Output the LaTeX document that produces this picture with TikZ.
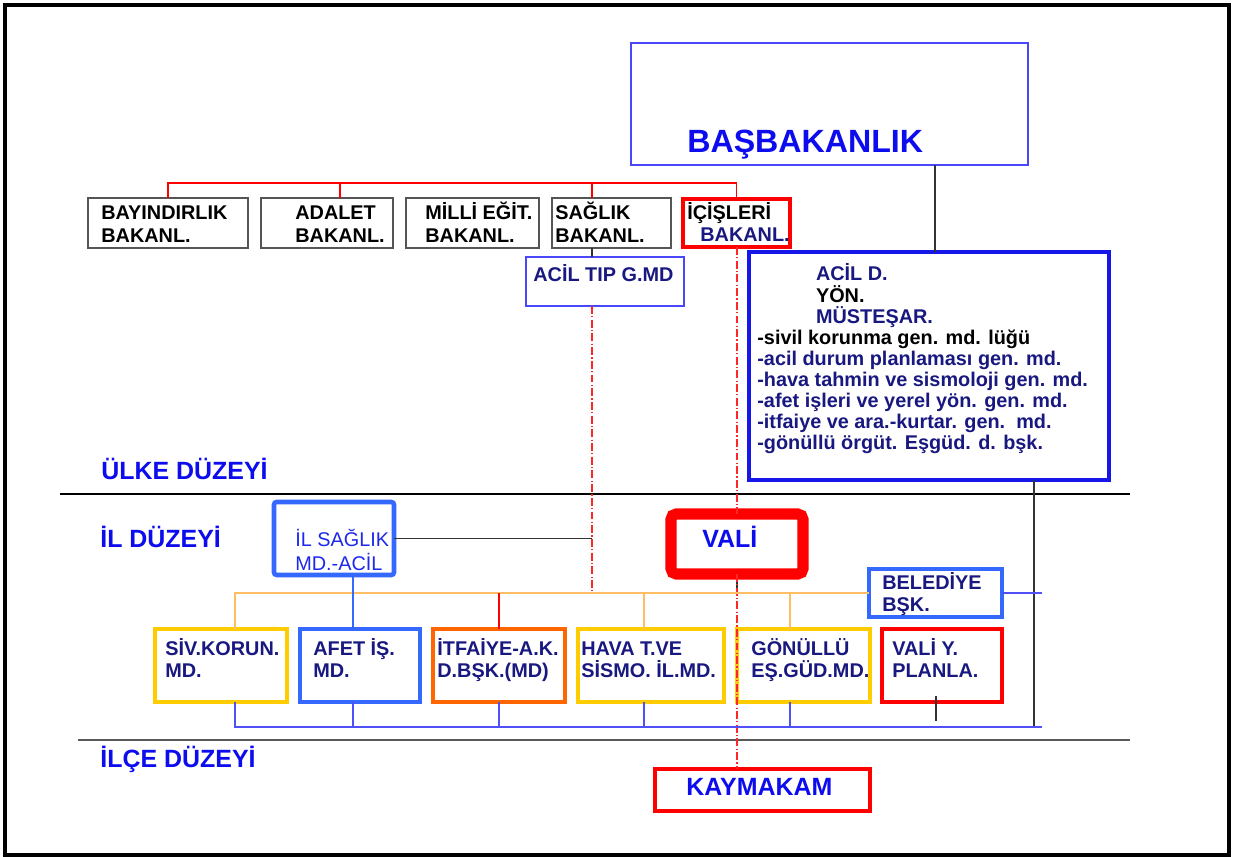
\documentclass[tikz,border=0pt]{standalone}
\usepackage{fontspec}
\setmainfont{Liberation Sans}
\definecolor{navy}{RGB}{24,24,128}
\definecolor{lblue}{RGB}{12,12,238}
\definecolor{edgeblue}{RGB}{72,72,250}
\definecolor{deepblue}{RGB}{22,22,232}
\definecolor{royal}{RGB}{52,104,255}
\definecolor{gold}{RGB}{255,204,0}
\definecolor{flame}{RGB}{255,102,0}
\definecolor{peach}{RGB}{255,190,100}
\definecolor{busblue}{RGB}{80,80,250}
\definecolor{greyedge}{RGB}{85,85,85}
\definecolor{textblue}{RGB}{30,40,235}

% left-aligned stack of lines; baseline = first line, fixed line spacing
\newcommand\lines[1]{\vtop{\lineskiplimit=-\maxdimen\halign{##\hfil\cr#1\crcr}}}
% empty framed box from its corner coordinates: style, name, x1, y1, x2, y2
\newcommand\panel[6]{\node[#1, minimum width={(#5-#3)*0.02cm}, minimum height={(#6-#4)*0.02cm}] (#2) at ({(#3+#5)/2},{(#4+#6)/2}) {};}

\begin{document}
\begin{tikzpicture}[x=0.02cm,y=-0.02cm,
  box/.style={draw, rectangle, inner sep=0pt, outer sep=0pt, fill=white},
  thinframe/.style={box, draw=edgeblue, line width=0.7pt},
  greyframe/.style={box, draw=greyedge, line width=1.1pt},
  redframe/.style={box, draw=red, line width=2.8pt},
  heavyred/.style={box, draw=red, line width=6.3pt, rounded corners=3pt},
  blueframe/.style={box, draw=deepblue, line width=2.4pt},
  royalframe/.style={box, draw=royal, line width=2.6pt},
  goldframe/.style={box, draw=gold, line width=2.8pt},
  flameframe/.style={box, draw=flame, line width=2.8pt},
  lbl/.style={inner sep=0pt, anchor=base west, text=black, font=\fontsize{11.3}{13}\selectfont\bfseries},
  navylbl/.style={lbl, text=navy},
  lowlbl/.style={lbl, text=navy, font=\fontsize{11.3}{12}\selectfont\bfseries},
  tier/.style={inner sep=0pt, anchor=base west, text=lblue, font=\fontsize{14.2}{16}\selectfont\bfseries},
  link/.style={line width=0.6pt, draw=black!80},
  redlink/.style={line width=0.7pt, draw=red},
  ddline/.style={line width=0.7pt, draw=red!85, dash pattern=on 4.5pt off 1.3pt on 0.7pt off 1.3pt},
  orangelink/.style={line width=0.7pt, draw=peach},
  bluelink/.style={line width=0.7pt, draw=busblue},
  royallink/.style={line width=0.7pt, draw=royal},
]
\useasboundingbox (0,0) rectangle (1235,857);
\fill[white] (0,0) rectangle (1235,857);
\draw[line width=2.3pt] (5,5) rectangle (1229,855);

% level separators
\draw[line width=0.7pt] (60,494) -- (1130,494);
\draw[line width=0.9pt, draw=black!65] (78,740) -- (1130,740);

% bus levels and branch positions
\coordinate (busR) at (0,183);
\coordinate (busO) at (0,593);
\coordinate (busB) at (0,727);
\coordinate (xAda) at (340,0);
\coordinate (xS) at (592,0);
\coordinate (xI) at (737,0);
\coordinate (xT) at (935,0);
\coordinate (xR) at (1034,0);
\coordinate (xEnd) at (1042,0);
\coordinate (x1) at (235,0);
\coordinate (x2) at (353,0);
\coordinate (x3) at (499,0);
\coordinate (x4) at (644,0);
\coordinate (x5) at (790,0);
\coordinate (stubTop) at (936,696);
\coordinate (stubEnd) at (936,721);

% boxes
\panel{thinframe}{bas}{631}{43}{1028}{165}
\panel{greyframe}{bay}{88}{198}{248}{248}
\panel{greyframe}{ada}{261}{198}{393}{248}
\panel{greyframe}{mil}{406}{198}{539}{248}
\panel{greyframe}{sag}{552}{198}{671}{248}
\panel{redframe}{ici}{683}{199}{790}{247}
\panel{thinframe}{tip}{526}{257}{684}{306}
\panel{blueframe}{acd}{749}{252}{1109}{480}
\panel{royalframe, rounded corners=1.5pt}{ils}{274}{502}{394}{575}
\panel{heavyred}{vali}{671}{514}{803}{574}
\panel{royalframe}{bel}{869}{569}{1002}{617}
\panel{goldframe}{siv}{155}{629}{287}{702}
\panel{royalframe}{afe}{300}{629}{420}{702}
\panel{flameframe}{itf}{433}{629}{565}{702}
\panel{goldframe}{hav}{578}{629}{724}{702}
\panel{goldframe}{gon}{737}{629}{870}{702}
\panel{redframe}{vly}{882}{629}{1002}{702}
\panel{redframe}{kay}{655}{769}{870}{811}

% connectors
\draw[redlink] (bay.north) -- (bay.north |- busR) -- (ici.north |- busR) -- (ici.north);
\draw[redlink] (xAda |- busR) -- (xAda |- ada.north);
\draw[redlink] (xS |- busR) -- (xS |- sag.north);
\draw[link] (xS |- sag.south) -- (xS |- tip.north);
\draw[ddline] (xS |- tip.south) -- (xS |- busO);
\draw[link] (xT |- bas.south) -- (xT |- acd.north);
\draw[link] (xR |- acd.south) -- (xR |- busB);
\draw[link] (ils.east) -- (xS |- ils.east);
\draw[link] (xI |- vali.south) -- (xI |- busO);
\draw[ddline] (xI |- ici.south) -- (xI |- vali.north);
\draw[ddline] (xI |- vali.south) -- (xI |- kay.north);
\draw[orangelink] (x1 |- siv.north) -- (x1 |- busO) -- (bel.west);
\draw[bluelink] (bel.east) -- (xEnd |- bel.east);
\draw[royallink] (x2 |- ils.south) -- (x2 |- afe.north);
\draw[redlink] (x3 |- busO) -- (x3 |- itf.north);
\draw[orangelink] (x4 |- busO) -- (x4 |- hav.north);
\draw[orangelink] (x5 |- busO) -- (x5 |- gon.north);
\draw[bluelink] (x1 |- siv.south) -- (x1 |- busB) -- (xEnd |- busB);
\draw[bluelink] (x2 |- afe.south) -- (x2 |- busB);
\draw[bluelink] (x3 |- itf.south) -- (x3 |- busB);
\draw[bluelink] (x4 |- hav.south) -- (x4 |- busB);
\draw[bluelink] (x5 |- gon.south) -- (x5 |- busB);
\draw[link] (stubTop) -- (stubEnd);

% texts
\node[tier, font=\fontsize{18.3}{20}\selectfont\bfseries] (tBas) at (687,153) {BAŞBAKANLIK};
\node[lbl] (tBay) at (101,220) {\lines{BAYINDIRLIK\cr BAKANL.}};
\node[lbl] (tAda) at (295,220) {\lines{ADALET\cr BAKANL.}};
\node[lbl] (tMil) at (425,220) {\lines{MİLLİ EĞİT.\cr BAKANL.}};
\node[lbl] (tSag) at (555,220) {\lines{SAĞLIK\cr BAKANL.}};
\node[lbl, font=\fontsize{11.3}{12.5}\selectfont\bfseries] (tIci) at (687,220) {\lines{İÇİŞLERİ\cr \hskip7.4pt\textcolor{navy}{BAKANL.}}};
\node[navylbl] (tTip) at (533,282) {ACİL TIP G.MD};
\node[navylbl, font=\fontsize{11.3}{12}\selectfont\bfseries] (tAcd) at (757,281) {\lines{\hskip33.4pt ACİL D.\cr
  \hskip33.4pt\textcolor{black}{YÖN.}\cr
  \hskip33.4pt MÜSTEŞAR.\cr
  \textcolor{black}{-sivil korunma gen. md. lüğü}\cr
  -acil durum planlaması gen. md.\cr
  -hava tahmin ve sismoloji gen. md.\cr
  -afet işleri ve yerel yön. gen. md.\cr
  -itfaiye ve ara.-kurtar. gen.\ \ md.\cr
  -gönüllü örgüt. Eşgüd. d. bşk.}};
\node[lbl, text=textblue, font=\fontsize{11.3}{13.6}\selectfont] (tIls) at (295,547) {\lines{İL SAĞLIK\cr MD.-ACİL}};
\node[tier] (tVali) at (702,548) {VALİ};
\node[navylbl, font=\fontsize{11.3}{12.5}\selectfont\bfseries] (tBel) at (882,590) {\lines{BELEDİYE\cr BŞK.}};
\node[lowlbl] (tSiv) at (165,656) {\lines{SİV.KORUN.\cr MD.}};
\node[lowlbl] (tAfe) at (313,656) {\lines{AFET İŞ.\cr MD.}};
\node[lowlbl] (tItf) at (437,656) {\lines{İTFAİYE-A.K.\cr D.BŞK.(MD)}};
\node[lowlbl] (tHav) at (581,656) {\lines{HAVA T.VE\cr SİSMO. İL.MD.}};
\node[lowlbl] (tGon) at (751,656) {\lines{GÖNÜLLÜ\cr EŞ.GÜD.MD.}};
\node[lowlbl] (tVly) at (892,656) {\lines{VALİ Y.\cr PLANLA.}};
\node[tier] (tKay) at (686,796) {KAYMAKAM};
\node[tier] (tUlke) at (101,480) {ÜLKE DÜZEYİ};
\node[tier] (tIl) at (100,548) {İL DÜZEYİ};
\node[tier] (tIlce) at (100,768) {İLÇE DÜZEYİ};
\end{tikzpicture}
\end{document}
